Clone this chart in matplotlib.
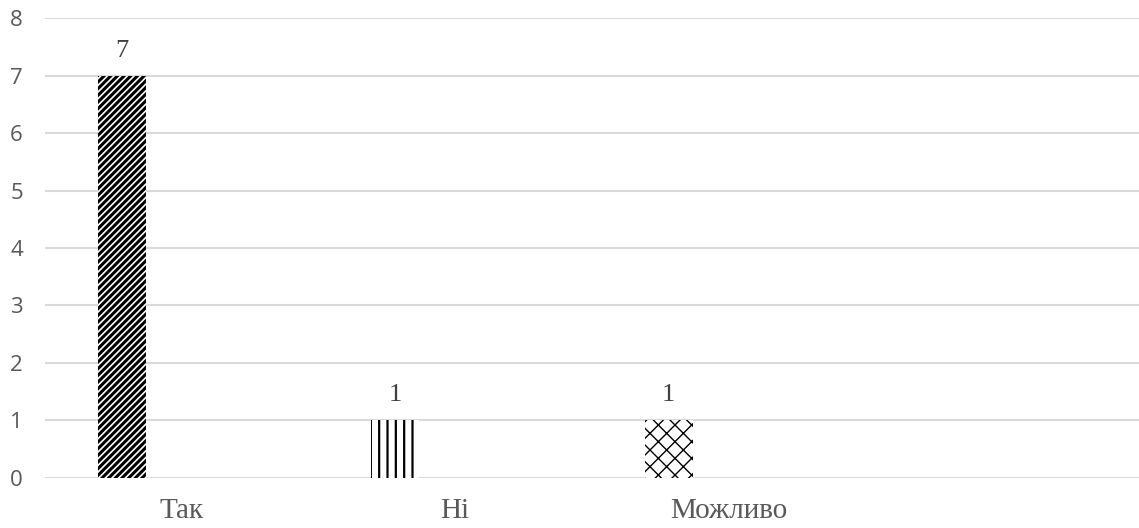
import matplotlib
matplotlib.use("Agg")
import matplotlib.pyplot as plt
import numpy as np

# answers and counts
categories = ["Так", "Ні", "Можливо", ""]
counts = [7, 1, 1, 0]
hatches = ["/////", "||", "xx", ""]
hatch_widths = [2.2, 1.6, 1.0, 1.0]

y_ticks = list(range(0, 9))

fig = plt.figure(figsize=(11.39, 5.28), dpi=100)
ax = fig.add_axes([0.0395, 0.0956, 0.9605, 0.8697])

x = np.arange(len(categories))
offset = -0.22
width = 0.176

for xi, val, h, hw in zip(x, counts, hatches, hatch_widths):
    if val == 0:
        continue
    bar = ax.bar(xi + offset, val, width, color="white", edgecolor="black",
                 linewidth=0, hatch=h, zorder=3)[0]
    if hasattr(bar, "set_hatch_linewidth"):
        bar.set_hatch_linewidth(hw)
    ax.annotate(str(val), (xi + offset, val), xytext=(0, 10), textcoords="offset points",
                ha="center", va="bottom", fontsize=19, color="#404040",
                family="Liberation Serif")

ax.set_xlim(-0.5, len(categories) - 0.5)
ax.set_ylim(0, 8)
ax.set_yticks(y_ticks)
ax.set_xticks(x)
ax.set_xticklabels(categories, family="Liberation Serif", fontsize=21, color="#595959")
ax.tick_params(axis="x", length=0, pad=15)
ax.tick_params(axis="y", length=0, pad=16, labelsize=16, labelcolor="#595959")
for lbl in ax.get_yticklabels():
    lbl.set_family("Open Sans")

ax.grid(axis="y", color="#d9d9d9", linewidth=1.5, zorder=0)
for s in ax.spines.values():
    s.set_visible(False)

fig.savefig("out.png", dpi=100)
